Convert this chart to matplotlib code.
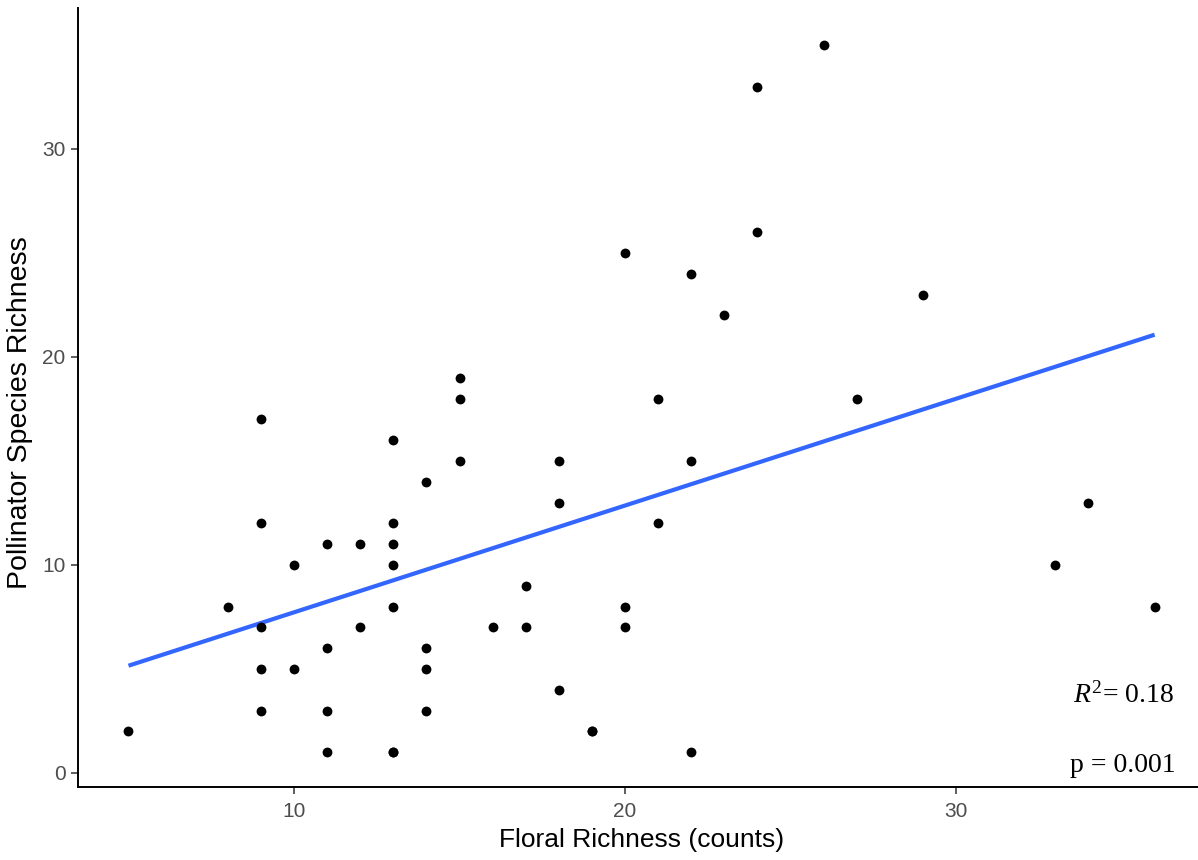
import numpy as np
import matplotlib
matplotlib.use("Agg")
import matplotlib.pyplot as plt

plt.rcParams["mathtext.fontset"] = "custom"
plt.rcParams["mathtext.rm"] = "Liberation Serif"
plt.rcParams["mathtext.it"] = "Liberation Serif:italic"

# Observations (two overlapping points at (13, 1) and (19, 2) are plotted twice)
floral_richness = [5, 8, 9, 9, 9, 9, 9, 10, 10, 11, 11, 11, 11, 12, 12,
                   13, 13, 13, 13, 13, 13, 13, 14, 14, 14, 14, 15, 15, 15,
                   16, 17, 17, 18, 18, 18, 19, 19, 20, 20, 20, 21, 21, 22, 22, 22,
                   23, 24, 24, 26, 27, 29, 33, 34, 36]
pollinator_richness = [2, 8, 17, 12, 7, 5, 3, 10, 5, 11, 6, 3, 1, 11, 7,
                       16, 12, 11, 10, 8, 1, 1, 14, 6, 5, 3, 19, 18, 15,
                       7, 9, 7, 15, 13, 4, 2, 2, 25, 8, 7, 18, 12, 24, 15, 1,
                       22, 33, 26, 35, 18, 23, 10, 13, 8]
x_ticks = [10, 20, 30]
y_ticks = [0, 10, 20, 30]
r2_label = "0.18"
p_label = "0.001"

x = np.array(floral_richness, dtype=float)
y = np.array(pollinator_richness, dtype=float)

W, H = 1198, 860
fig = plt.figure(figsize=(W / 100, H / 100), dpi=100)
left_px, right_px, top_px, bottom_px = 78, 1198, 8, 787
ax = fig.add_axes([left_px / W, 1 - bottom_px / H,
                   (right_px - left_px) / W, (bottom_px - top_px) / H])

xs = 33.1
ys = 20.8
ax.set_xlim(10 - (294 - left_px) / xs, 10 + (right_px - 294) / xs)
ax.set_ylim(0 - (bottom_px - 773) / ys, 0 + (773 - top_px) / ys)

ax.scatter(x, y, s=50, color="black", zorder=3, linewidths=0)

coef = np.polyfit(x, y, 1)
xl = np.linspace(x.min(), x.max(), 100)
ax.plot(xl, np.polyval(coef, xl), color="#3366FF", lw=3.0, zorder=2,
        solid_capstyle="butt")

for side in ["top", "right"]:
    ax.spines[side].set_visible(False)
for side in ["left", "bottom"]:
    ax.spines[side].set_linewidth(1.4)
    ax.spines[side].set_color("black")

ax.set_xticks(x_ticks)
ax.set_yticks(y_ticks)
ax.tick_params(axis="both", length=5, width=1.1, color="#333333",
               labelsize=15, labelcolor="#4D4D4D")
ax.tick_params(axis="x", pad=6)
ax.tick_params(axis="y", pad=4)
for lab in ax.get_xticklabels() + ax.get_yticklabels():
    lab.set_family("Liberation Sans")

ax.set_xlabel("Floral Richness (counts)", fontsize=19, family="Liberation Sans")
ax.set_ylabel("Pollinator Species Richness", fontsize=20.5,
              family="Liberation Sans")
ax.xaxis.set_label_coords((642 - left_px) / (right_px - left_px),
                          -(840 - bottom_px) / (bottom_px - top_px))
ax.xaxis.label.set_va("center")
ax.yaxis.set_label_coords(-(78 - 20) / (right_px - left_px),
                          (bottom_px - 413) / (bottom_px - top_px))
ax.yaxis.label.set_va("center")

ax.text(35.05, 3.4, r"$R^{2}$= " + r2_label, fontsize=20,
        family="Liberation Serif", ha="center", va="baseline",
        math_fontfamily="custom")
ax.text(35.05, 0.05, "p = " + p_label, fontsize=20, family="Liberation Serif",
        ha="center", va="baseline")

fig.savefig("out.png", dpi=100)
